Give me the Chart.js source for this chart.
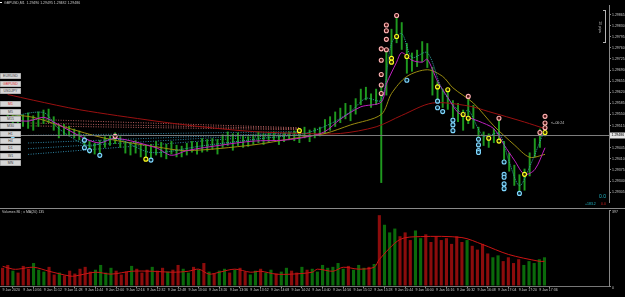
<!DOCTYPE html>
<html>
<head>
<meta charset="utf-8">
<title>GBPUSD,M1</title>
<script src="https://cdn.jsdelivr.net/npm/chart.js@4.4.1/dist/chart.umd.min.js"></script>
<style>
  html, body { margin: 0; padding: 0; background: #000; width: 625px; height: 297px; overflow: hidden; }
  canvas { position: absolute; left: 0; }
  #main { top: 0; }
  #vol { top: 209px; }
  .sep { position: absolute; left: 0; top: 208px; width: 625px; height: 1px; background: #8a8a8a; }
  .s { position: absolute; transform-origin: 0 0; transform: scale(0.5); font-family: "Liberation Sans", Arial, sans-serif; font-size: 7px; line-height: 1; white-space: nowrap; color: #c8c8c8; }
  .btn { left: 0; width: 40px; height: 10px; line-height: 10px; background: #d6d6d6; border: 1px solid #8c8c8c; color: #404040; text-align: center; }
  .red { color: #e03030; }
  .bracket { position: absolute; left: 603px; top: 10px; width: 3px; height: 33px; border: 1px solid #b4b4b4; border-left: none; box-sizing: border-box; }
  .pips { position: absolute; left: 600px; top: 27px; font-family: "Liberation Sans", Arial, sans-serif; font-size: 7px; line-height: 1; color: #c8c8c8; white-space: nowrap; transform: translate(-50%, -50%) rotate(90deg) scale(0.5); }
</style>
</head>
<body>

<canvas id="main" width="625" height="208"></canvas>
<div class="sep"></div>
<canvas id="vol" width="625" height="88"></canvas>

<div class="s" style="left:0;top:2px;width:4px;height:2px;background:#fff;"></div>
<div class="s" style="left:4px;top:1px;">GBPUSD,M1&nbsp; 1.29490 1.29495 1.29482 1.29486</div>

<div class="s btn" style="top:73px;">EURUSD</div>
<div class="s btn red" style="top:80.5px;">GBPUSD</div>
<div class="s btn" style="top:88px;">USDJPY</div>
<div class="s btn red" style="top:101px;">M1</div>
<div class="s btn" style="top:108.5px;">M5</div>
<div class="s btn" style="top:116px;">M15</div>
<div class="s btn" style="top:123px;">M30</div>
<div class="s btn" style="top:130.5px;">H1</div>
<div class="s btn" style="top:138px;">H4</div>
<div class="s btn" style="top:145px;">D1</div>
<div class="s btn" style="top:152.5px;">W1</div>
<div class="s btn" style="top:160px;">MN</div>

<div class="bracket"></div>
<div class="pips">10 pips</div>
<div class="s" style="left:551px;top:120.5px;">&lt;--00:24</div>
<div class="s" style="left:599px;top:194px;color:#20b8c8;font-size:10px;">0.0</div>
<div class="s" style="left:585px;top:202px;color:#20b8c8;">+183.2</div>
<div class="s" style="left:601px;top:202px;color:#d02020;">0.0</div>
<div class="s" style="left:2px;top:210px;">Volumes 86 ; x MA(20) 135</div>

<script>
// -----------------------------
// Data (M1 bars grouped in 4 minute slots, from 10:40)
// -----------------------------
const slotCount = 118;
const startMinutes = 10 * 60 + 40;

const candleHigh = [
  1.29556, 1.29553, 1.29559, 1.29550, 1.29556, 1.29547, 1.29559, 1.29565, 1.29568, 1.29544,
  1.29520, 1.29520, 1.29514, 1.29505, 1.29499, 1.29481, 1.29466, 1.29460, 1.29469, 1.29481,
  1.29484, 1.29493, 1.29481, 1.29466, 1.29463, 1.29469, 1.29460, 1.29454, 1.29457, 1.29466,
  1.29463, 1.29457, 1.29466, 1.29454, 1.29451, 1.29460, 1.29466, 1.29463, 1.29475, 1.29472,
  1.29475, 1.29472, 1.29487, 1.29496, 1.29490, 1.29493, 1.29484, 1.29481, 1.29487, 1.29496,
  1.29490, 1.29493, 1.29496, 1.29487, 1.29493, 1.29496, 1.29499, 1.29505, 1.29511, 1.29502,
  1.29508, 1.29511, 1.29535, 1.29544, 1.29559, 1.29571, 1.29586, 1.29580, 1.29601, 1.29631,
  1.29637, 1.29616, 1.29631, 1.29646, 1.29760, 1.29820, 1.29859, 1.29841, 1.29775, 1.29745,
  1.29754, 1.29781, 1.29775, 1.29700, 1.29655, 1.29631, 1.29625, 1.29595, 1.29586, 1.29565,
  1.29604, 1.29580, 1.29511, 1.29496, 1.29490, 1.29505, 1.29535, 1.29466, 1.29430, 1.29391,
  1.29361, 1.29379, 1.29430, 1.29475, 1.29505, 1.29526
];

const candleLow = [
  1.29529, 1.29523, 1.29520, 1.29511, 1.29505, 1.29499, 1.29511, 1.29520, 1.29523, 1.29499,
  1.29475, 1.29484, 1.29481, 1.29475, 1.29469, 1.29445, 1.29427, 1.29424, 1.29421, 1.29445,
  1.29451, 1.29457, 1.29445, 1.29427, 1.29421, 1.29427, 1.29415, 1.29409, 1.29406, 1.29421,
  1.29415, 1.29409, 1.29424, 1.29415, 1.29415, 1.29421, 1.29430, 1.29424, 1.29430, 1.29433,
  1.29439, 1.29424, 1.29445, 1.29451, 1.29436, 1.29451, 1.29445, 1.29448, 1.29454, 1.29460,
  1.29454, 1.29460, 1.29466, 1.29454, 1.29463, 1.29469, 1.29466, 1.29460, 1.29475, 1.29463,
  1.29475, 1.29481, 1.29490, 1.29499, 1.29511, 1.29523, 1.29535, 1.29529, 1.29550, 1.29580,
  1.29595, 1.29571, 1.29580, 1.29334, 1.29610, 1.29715, 1.29775, 1.29754, 1.29679, 1.29685,
  1.29700, 1.29715, 1.29697, 1.29610, 1.29589, 1.29571, 1.29565, 1.29541, 1.29526, 1.29499,
  1.29520, 1.29505, 1.29466, 1.29451, 1.29445, 1.29460, 1.29460, 1.29400, 1.29370, 1.29325,
  1.29295, 1.29310, 1.29355, 1.29415, 1.29445, 1.29481
];

const volumes = [
  95, 110, 80, 70, 105, 90, 120, 85, 75, 100,
  60, 70, 55, 80, 65, 90, 100, 75, 85, 110,
  70, 95, 80, 60, 75, 105, 90, 70, 85, 100,
  80, 95, 75, 85, 110, 90, 70, 100, 85, 120,
  75, 65, 80, 90, 70, 85, 95, 75, 60, 80,
  90, 70, 85, 65, 75, 95, 80, 70, 100, 85,
  90, 75, 110, 95, 100, 120, 90, 105, 85, 110,
  95, 100, 115, 370, 320, 280, 300, 260, 280, 240,
  290, 250, 270, 230, 260, 240, 250, 220, 260, 230,
  240, 210, 190, 220, 170, 150, 160, 130, 150, 120,
  140, 110, 130, 120, 140, 150
];

// moving averages, [slot, price]
const slowMA = [
  [0, 1.29613], [5, 1.29595], [14, 1.29565], [29, 1.29529], [38, 1.29511], [48, 1.29496],
  [58, 1.29490], [65, 1.29490], [72, 1.29511], [77, 1.29547], [83, 1.29586], [90, 1.29577],
  [94, 1.29559], [101, 1.29526], [105, 1.29505]
];

const midMA = [
  [0, 1.29550], [5, 1.29541], [11, 1.29511], [19, 1.29475], [29, 1.29448], [35, 1.29436],
  [48, 1.29454], [56, 1.29475], [62, 1.29490], [67, 1.29517], [73, 1.29550], [75, 1.29616],
  [78, 1.29670], [82, 1.29691], [85, 1.29670], [87, 1.29634], [91, 1.29586], [95, 1.29514],
  [99, 1.29454], [102, 1.29415], [105, 1.29424]
];

const fastMA = [
  [0, 1.29535], [4, 1.29529], [7, 1.29541], [9, 1.29526], [15, 1.29475], [18, 1.29460],
  [21, 1.29475], [29, 1.29445], [32, 1.29421], [35, 1.29436], [42, 1.29454], [48, 1.29466],
  [54, 1.29469], [59, 1.29481], [62, 1.29496], [65, 1.29535], [69, 1.29574], [73, 1.29589],
  [74, 1.29646], [76, 1.29715], [77, 1.29745], [79, 1.29721], [81, 1.29715], [82, 1.29724],
  [84, 1.29655], [86, 1.29604], [88, 1.29556], [90, 1.29541], [92, 1.29529], [95, 1.29505],
  [97, 1.29454], [99, 1.29406], [101, 1.29361], [103, 1.29376], [105, 1.29445]
];

const dotMA = [
  [0, 1.29541], [7, 1.29556], [10, 1.29505], [16, 1.29451], [21, 1.29475], [28, 1.29430],
  [38, 1.29451], [50, 1.29475], [58, 1.29490], [63, 1.29520], [67, 1.29559], [70, 1.29601],
  [73, 1.29595], [75, 1.29775], [77, 1.29805], [79, 1.29730], [82, 1.29745], [85, 1.29625],
  [89, 1.29550], [90, 1.29565], [93, 1.29481], [96, 1.29490], [98, 1.29400], [100, 1.29325],
  [102, 1.29385], [105, 1.29505]
];

const volumeMA = [
  [0, 103], [2, 88], [3, 88], [6, 98], [9, 77], [13, 52], [14, 52], [18, 72], [21, 62],
  [25, 77], [29, 77], [33, 72], [36, 77], [38, 88], [40, 62], [42, 72], [45, 88], [48, 72],
  [50, 77], [53, 62], [56, 62], [60, 72], [61, 88], [64, 77], [66, 98], [69, 88], [72, 98],
  [73, 139], [77, 243], [81, 258], [89, 253], [93, 217], [98, 165], [104, 129], [105, 129]
];

// signal circles, [slot, price]
const pinkSignals = [
  [21, 1.29481], [76, 1.29862], [74, 1.29832], [74, 1.29814], [74, 1.29787], [73, 1.29757],
  [74, 1.29754], [73, 1.29721], [73, 1.29676], [73, 1.29643], [73, 1.29616], [90, 1.29607],
  [96, 1.29538], [105, 1.29544], [105, 1.29523], [105, 1.29508], [104, 1.29493]
];

const yellowSignals = [
  [27, 1.29409], [57, 1.29499], [76, 1.29796], [75, 1.29727], [75, 1.29715], [78, 1.29733],
  [84, 1.29637], [86, 1.29628], [89, 1.29550], [90, 1.29538], [94, 1.29475], [96, 1.29466],
  [101, 1.29361], [105, 1.29493]
];

const cyanSignals = [
  [1, 1.29484], [15, 1.29469], [15, 1.29445], [16, 1.29436], [18, 1.29421], [28, 1.29406],
  [78, 1.29658], [84, 1.29592], [84, 1.29571], [85, 1.29559], [87, 1.29532], [87, 1.29517],
  [87, 1.29499], [92, 1.29472], [92, 1.29454], [92, 1.29436], [92, 1.29430], [97, 1.29400],
  [97, 1.29361], [97, 1.29352], [97, 1.29331], [97, 1.29316], [100, 1.29301]
];

// dotted level lines, [start price, end price] from slot 4 to slot 57
const upperLevels = [[1.29535, 1.29508], [1.29523, 1.29505], [1.29514, 1.29502]];
const lowerLevels = [[1.29484, 1.29496], [1.29460, 1.29493], [1.29442, 1.29493], [1.29424, 1.29490]];

const priceTicks = [
  1.29865, 1.29830, 1.29795, 1.29760, 1.29725, 1.29690, 1.29655, 1.29620, 1.29585,
  1.29550, 1.29515, 1.29445, 1.29410, 1.29375, 1.29340, 1.29305
];
const currentPrice = 1.29486;
const volumeTicks = [397, 0];


// -----------------------------
// Helpers
// -----------------------------
const timeLabels = [];
for (let i = 0; i < slotCount; i++) {
  const m = startMinutes + i * 4;
  timeLabels.push(String(Math.floor(m / 60)).padStart(2, "0") + ":" + String(m % 60).padStart(2, "0"));
}

function sparse(knots) {
  const arr = new Array(slotCount).fill(null);
  knots.forEach(k => { arr[k[0]] = k[1]; });
  return arr;
}

function points(list) {
  return list.map(k => ({ x: timeLabels[k[0]], y: k[1] }));
}

function maLine(knots, color, dash, order) {
  return {
    type: "line",
    data: sparse(knots),
    borderColor: color,
    borderWidth: 1,
    borderDash: dash,
    pointRadius: 0,
    spanGaps: true,
    tension: 0.3,
    order: order
  };
}

function signals(list, color, fill) {
  return {
    type: "line",
    data: points(list),
    showLine: false,
    pointRadius: 2,
    pointBorderWidth: 1.1,
    pointBorderColor: color,
    pointBackgroundColor: fill,
    order: 0
  };
}

function level(pair, color) {
  return {
    type: "line",
    data: sparse([[4, pair[0]], [57, pair[1]]]),
    borderColor: color,
    borderWidth: 1,
    borderDash: [1, 1.5],
    pointRadius: 0,
    spanGaps: true,
    order: 6
  };
}

const tickFont = { family: "'Liberation Sans', Arial, sans-serif", size: 3.5 };

const candles = candleLow.map((lo, i) => [lo, candleHigh[i]]);

const volColors = volumes.map((v, i) => {
  const mid = candleHigh[i] + candleLow[i];
  const prev = i > 0 ? candleHigh[i - 1] + candleLow[i - 1] : mid;
  return mid > prev ? "#0b6a0b" : "#8c0c0c";
});


// -----------------------------
// Bid line + price box
// -----------------------------
const priceLine = {
  id: "priceLine",
  afterDraw(chart) {
    const { ctx, chartArea, scales } = chart;
    const y = Math.round(scales.y.getPixelForValue(currentPrice)) + 0.5;
    ctx.save();
    ctx.strokeStyle = "#7c7c7c";
    ctx.lineWidth = 1;
    ctx.beginPath();
    ctx.moveTo(chartArea.left, y);
    ctx.lineTo(chartArea.right, y);
    ctx.stroke();
    ctx.fillStyle = "#e6e6e6";
    ctx.fillRect(chartArea.right + 1, y - 3, 15, 6);
    ctx.fillStyle = "#000";
    ctx.font = "3.5px 'Liberation Sans', Arial, sans-serif";
    ctx.textBaseline = "middle";
    ctx.fillText(currentPrice.toFixed(5), chartArea.right + 2.5, y);
    ctx.restore();
  }
};


// -----------------------------
// Price chart
// -----------------------------
new Chart(document.getElementById("main"), {
  type: "bar",
  data: {
    labels: timeLabels,
    datasets: [
      signals(pinkSignals, "#ffb4b4", "#4a1010"),
      signals(yellowSignals, "#ffff20", "#303000"),
      signals(cyanSignals, "#80d8ff", "#0a2a3a"),
      maLine(dotMA, "#2fa0a0", [1, 1], 1),
      maLine(fastMA, "#c020c0", [], 2),
      maLine(midMA, "#9a8c10", [], 3),
      maLine(slowMA, "#9a1010", [], 4),
      {
        data: candles,
        backgroundColor: "#1f9a1f",
        barPercentage: 0.38,
        categoryPercentage: 1,
        order: 5
      },
      ...upperLevels.map(p => level(p, "#b86060")),
      ...lowerLevels.map(p => level(p, "#2f86a6"))
    ]
  },
  options: {
    responsive: false,
    animation: false,
    events: [],
    layout: { padding: 0 },
    plugins: { legend: { display: false }, tooltip: { enabled: false } },
    scales: {
      x: { display: false, offset: true },
      y: {
        position: "right",
        min: 1.29271,
        max: 1.29895,
        afterBuildTicks: axis => { axis.ticks = priceTicks.map(v => ({ value: v })); },
        afterFit: axis => { axis.width = 16; axis.paddingTop = 0; axis.paddingBottom = 0; },
        ticks: { color: "#c8c8c8", font: tickFont, padding: 1, callback: v => v.toFixed(5) },
        grid: { drawOnChartArea: false, tickLength: 2, color: "#888" },
        border: { color: "#888" }
      }
    }
  },
  plugins: [priceLine]
});


// -----------------------------
// Volume chart
// -----------------------------
new Chart(document.getElementById("vol"), {
  type: "bar",
  data: {
    labels: timeLabels,
    datasets: [
      maLine(volumeMA, "#cc1414", [], 0),
      {
        data: volumes,
        backgroundColor: volColors,
        barPercentage: 0.6,
        categoryPercentage: 1,
        order: 1
      }
    ]
  },
  options: {
    responsive: false,
    animation: false,
    events: [],
    layout: { padding: { top: 1 } },
    plugins: { legend: { display: false }, tooltip: { enabled: false } },
    scales: {
      x: {
        offset: true,
        afterBuildTicks: axis => { axis.ticks = axis.ticks.filter(t => t.value % 4 === 0 && t.value <= 104); },
        afterFit: axis => { axis.height = 11; axis.paddingLeft = 0; axis.paddingRight = 0; },
        ticks: {
          autoSkip: false,
          maxRotation: 0,
          minRotation: 0,
          align: "start",
          padding: 0,
          color: "#c8c8c8",
          font: tickFont,
          callback: v => v === 0 ? "9 Jan 2020" : "9 Jan " + timeLabels[v]
        },
        grid: { drawOnChartArea: false, tickLength: 2, color: "#888" },
        border: { color: "#777" }
      },
      y: {
        position: "right",
        min: 0,
        max: 397,
        afterBuildTicks: axis => { axis.ticks = volumeTicks.map(v => ({ value: v })); },
        afterFit: axis => { axis.width = 16; axis.paddingTop = 0; axis.paddingBottom = 0; },
        ticks: { color: "#c8c8c8", font: tickFont, padding: 1, labelOffset: 2.5 },
        grid: { drawOnChartArea: false, tickLength: 2, color: "#888" },
        border: { color: "#888" }
      }
    }
  }
});
</script>
</body>
</html>
